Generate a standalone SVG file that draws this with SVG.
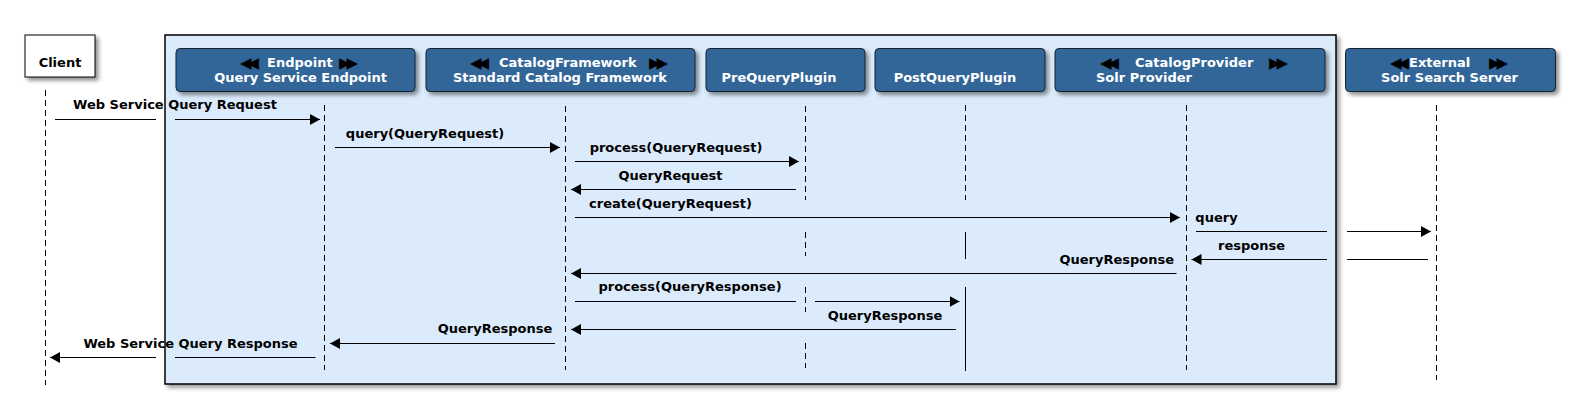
<svg xmlns="http://www.w3.org/2000/svg" width="1580" height="420" viewBox="0 0 1580 420">
<defs>
<style>
text{font-family:"DejaVu Sans","Liberation Sans",sans-serif;font-weight:bold;font-size:13px}
.lbl{fill:#000}
.hd{fill:#fff}
.tri{fill:#000;font-size:15px;letter-spacing:-4px}
.node{fill:#336699;stroke:#14202e;stroke-width:1}
.life{stroke:#000;stroke-width:1;stroke-dasharray:6,4;fill:none}
.solid{stroke:#000;stroke-width:1;fill:none}
.msg{stroke:#000;stroke-width:1;fill:none}
.arr{stroke:#000;stroke-width:1;fill:none;marker-end:url(#ah)}
</style>
<marker id="ah" markerUnits="userSpaceOnUse" markerWidth="11" markerHeight="12" refX="10" refY="5.5" orient="auto">
<path d="M0,0 L10,5.5 L0,11 z" fill="#000"/>
</marker>
<filter id="sh" x="-10%" y="-10%" width="130%" height="140%">
<feGaussianBlur in="SourceAlpha" stdDeviation="2"/>
<feOffset dx="3" dy="3" result="b"/>
<feComponentTransfer><feFuncA type="linear" slope="0.45"/></feComponentTransfer>
<feMerge><feMergeNode/><feMergeNode in="SourceGraphic"/></feMerge>
</filter>
<filter id="sh2" x="-2%" y="-2%" width="104%" height="106%">
<feGaussianBlur in="SourceAlpha" stdDeviation="2"/>
<feOffset dx="3" dy="3" result="b"/>
<feComponentTransfer><feFuncA type="linear" slope="0.4"/></feComponentTransfer>
<feMerge><feMergeNode/><feMergeNode in="SourceGraphic"/></feMerge>
</filter>
</defs>
<rect width="1580" height="420" fill="#fff"/>

<g id="container">
<rect x="165" y="35" width="1171" height="349" fill="#dcebfc" stroke="#000" stroke-width="1.5" filter="url(#sh2)"/>
</g>

<g id="node-client">
<rect x="25" y="35" width="70" height="42" fill="#fff" stroke="#000" stroke-width="1" filter="url(#sh)"/>
<text class="lbl" x="60" y="67" text-anchor="middle">Client</text>
</g>

<g id="node-endpoint">
<rect class="node" x="176" y="48.5" width="239" height="43" rx="4" filter="url(#sh)"/>
<text class="tri" x="240" y="68">◀◀</text>
<text class="hd" x="267" y="66.5">Endpoint</text>
<text class="tri" x="339" y="68">▶▶</text>
<text class="hd" x="300.5" y="81.5" text-anchor="middle">Query Service Endpoint</text>
</g>

<g id="node-catalogframework">
<rect class="node" x="426" y="48.5" width="269" height="43" rx="4" filter="url(#sh)"/>
<text class="tri" x="470" y="68">◀◀</text>
<text class="hd" x="499" y="66.5">CatalogFramework</text>
<text class="tri" x="649" y="68">▶▶</text>
<text class="hd" x="560" y="81.5" text-anchor="middle">Standard Catalog Framework</text>
</g>

<g id="node-prequeryplugin">
<rect class="node" x="706" y="48.5" width="159" height="43" rx="4" filter="url(#sh)"/>
<text class="hd" x="779" y="81.5" text-anchor="middle">PreQueryPlugin</text>
</g>

<g id="node-postqueryplugin">
<rect class="node" x="875" y="48.5" width="170" height="43" rx="4" filter="url(#sh)"/>
<text class="hd" x="955" y="81.5" text-anchor="middle">PostQueryPlugin</text>
</g>

<g id="node-catalogprovider">
<rect class="node" x="1055" y="48.5" width="270" height="43" rx="4" filter="url(#sh)"/>
<text class="tri" x="1100" y="68">◀◀</text>
<text class="hd" x="1135" y="66.5">CatalogProvider</text>
<text class="tri" x="1269" y="68">▶▶</text>
<text class="hd" x="1096" y="81.5">Solr Provider</text>
</g>

<g id="node-external">
<rect class="node" x="1345.5" y="48.5" width="210" height="43" rx="4" filter="url(#sh)"/>
<text class="tri" x="1390" y="68">◀◀</text>
<text class="hd" x="1409" y="66.5">External</text>
<text class="tri" x="1489" y="68">▶▶</text>
<text class="hd" x="1449.5" y="81.5" text-anchor="middle">Solr Search Server</text>
</g>

<g id="lifelines">
<line class="life" x1="45.5" y1="90" x2="45.5" y2="385"/>
<line class="life" x1="324.5" y1="105" x2="324.5" y2="370"/>
<line class="life" x1="565.5" y1="106" x2="565.5" y2="370"/>
<line class="life" x1="805.5" y1="106" x2="805.5" y2="200"/>
<line class="life" x1="805.5" y1="232" x2="805.5" y2="256"/>
<line class="life" x1="805.5" y1="287" x2="805.5" y2="312"/>
<line class="life" x1="805.5" y1="343" x2="805.5" y2="368"/>
<line class="life" x1="965.5" y1="105" x2="965.5" y2="200"/>
<line class="solid" x1="965.5" y1="232" x2="965.5" y2="259"/>
<line class="solid" x1="965.5" y1="287" x2="965.5" y2="371"/>
<line class="life" x1="1186.5" y1="105" x2="1186.5" y2="370"/>
<line class="life" x1="1436.5" y1="105" x2="1436.5" y2="380"/>
</g>

<g id="connectors">
<line class="msg" x1="55" y1="119.5" x2="156" y2="119.5"/>
<line class="arr" x1="175" y1="119.5" x2="320" y2="119.5"/>
<text class="lbl" x="175" y="109" text-anchor="middle">Web Service Query Request</text>

<line class="arr" x1="335" y1="147.5" x2="560" y2="147.5"/>
<text class="lbl" x="425" y="137.5" text-anchor="middle">query(QueryRequest)</text>

<line class="arr" x1="575" y1="161.5" x2="799" y2="161.5"/>
<text class="lbl" x="676" y="151.5" text-anchor="middle">process(QueryRequest)</text>

<line class="arr" x1="796" y1="189.5" x2="571" y2="189.5"/>
<text class="lbl" x="670.5" y="179.5" text-anchor="middle">QueryRequest</text>

<line class="arr" x1="575" y1="217.5" x2="1180" y2="217.5"/>
<text class="lbl" x="670.5" y="207.5" text-anchor="middle">create(QueryRequest)</text>

<line class="msg" x1="1196" y1="231.5" x2="1327" y2="231.5"/>
<line class="arr" x1="1347" y1="231.5" x2="1431" y2="231.5"/>
<text class="lbl" x="1216.5" y="221.5" text-anchor="middle">query</text>

<line class="msg" x1="1428" y1="259.5" x2="1347" y2="259.5"/>
<line class="arr" x1="1327" y1="259.5" x2="1191.5" y2="259.5"/>
<text class="lbl" x="1251.5" y="249.5" text-anchor="middle">response</text>

<line class="arr" x1="1176.5" y1="273.5" x2="571" y2="273.5"/>
<text class="lbl" x="1174" y="263.5" text-anchor="end">QueryResponse</text>

<line class="msg" x1="575" y1="301.5" x2="796" y2="301.5"/>
<line class="arr" x1="815" y1="301.5" x2="959.5" y2="301.5"/>
<text class="lbl" x="690" y="291" text-anchor="middle">process(QueryResponse)</text>

<line class="arr" x1="956" y1="329.5" x2="571" y2="329.5"/>
<text class="lbl" x="885" y="319.5" text-anchor="middle">QueryResponse</text>

<line class="arr" x1="555" y1="343.5" x2="330" y2="343.5"/>
<text class="lbl" x="495" y="333" text-anchor="middle">QueryResponse</text>

<line class="msg" x1="315.5" y1="357.5" x2="175" y2="357.5"/>
<line class="arr" x1="156" y1="357.5" x2="50" y2="357.5"/>
<text class="lbl" x="190.5" y="347.5" text-anchor="middle">Web Service Query Response</text>
</g>
</svg>
